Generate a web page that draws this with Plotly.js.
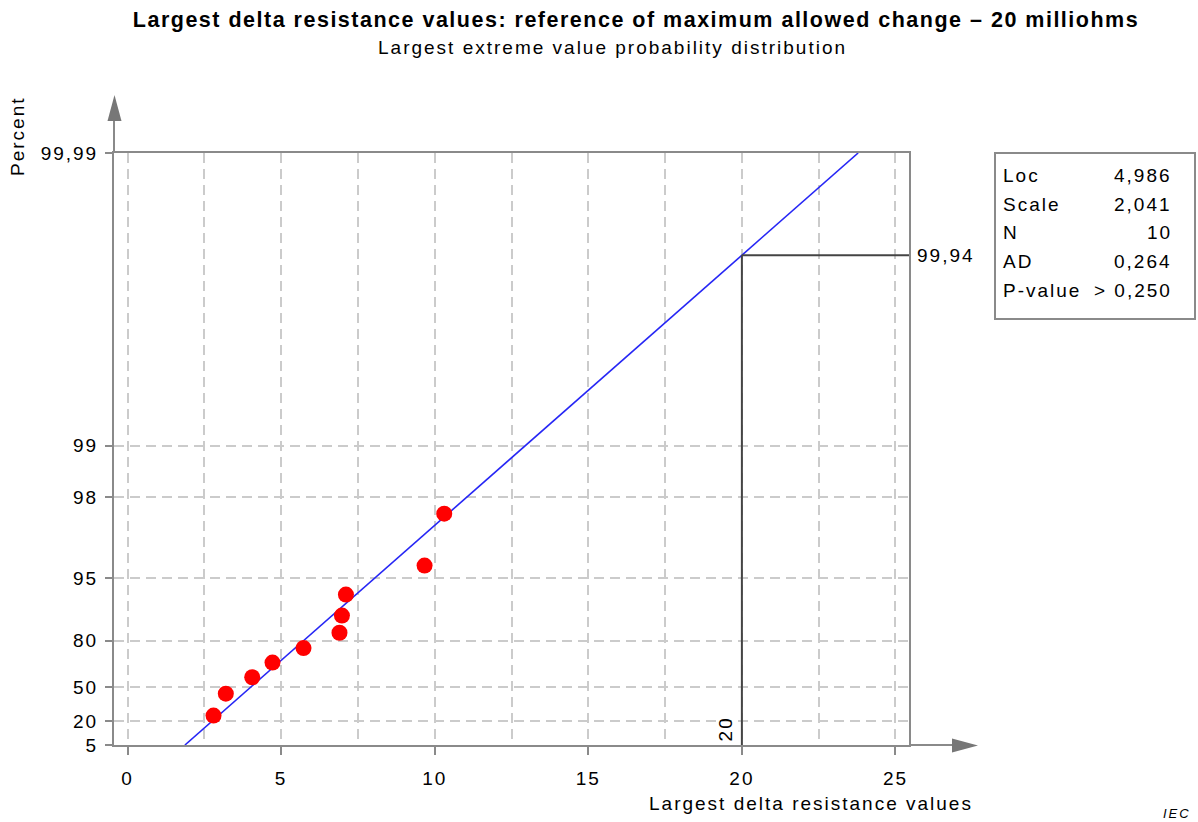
<!DOCTYPE html>
<html>
<head>
<meta charset="utf-8">
<script src="https://cdn.plot.ly/plotly-3.0.1.min.js"></script>
<style>
  html, body { margin: 0; padding: 0; background: #fff; }
  #chart { width: 1198px; height: 822px; }
  text { letter-spacing: 2px; }
  text.gtitle { letter-spacing: 1.5px; }
</style>
</head>
<body>
<div id="chart"></div>
<script>
// ---- data ----
const xVals   = [2.80, 3.20, 4.06, 4.72, 5.73, 6.90, 6.98, 7.11, 9.67, 10.31];
const pctVals = [6.7, 16.3, 26.0, 35.6, 45.2, 54.8, 64.4, 74.0, 83.7, 93.3];
const fitLoc = 4.986;
const fitScale = 2.041;
const refX = 20;
const refLabel = "99,94";
const xTickVals = [0, 5, 10, 15, 20, 25];
const yTickPct  = [1, 5, 20, 50, 80, 95, 98, 99.99];
const yTickText = ["5", "20", "50", "80", "95", "98", "99", "99,99"];
const statLabels = ["Loc", "Scale", "N", "AD", "P-value"];
const statValues = ["4,986", "2,041", "10", "0,264", "> 0,250"];

// largest extreme value (Gumbel) probability scale
const pctToZ = p => -Math.log(-Math.log(p / 100));
const zMin = pctToZ(yTickPct[0]);
const zMax = pctToZ(yTickPct[yTickPct.length - 1]);
const fitZ = x => (x - fitLoc) / fitScale;
const refZ = fitZ(refX);

const FONT = "Liberation Sans, Arial, Helvetica, sans-serif";
const GRID = "#cbcbcb";
const AXC = "#8a8a8a";

const traces = [
  {
    x: [fitLoc + fitScale * zMin, fitLoc + fitScale * zMax],
    y: [zMin, zMax],
    mode: "lines",
    line: { color: "#2626f5", width: 1.6 },
    hoverinfo: "skip"
  },
  {
    x: xVals,
    y: pctVals.map(pctToZ),
    mode: "markers",
    marker: { color: "#ff0000", size: 16, line: { width: 0 } }
  }
];

// pixel helpers for paper coordinates (plot area 114..909 x 153..745)
const PL = 114, PR = 909, PT = 153, PB = 745;
const px = v => (v - PL) / (PR - PL);
const py = v => (PB - v) / (PB - PT);

const shapes = [
  // y-axis extension and arrow
  { type: "line", xref: "paper", yref: "paper", x0: 0, x1: 0, y0: 1, y1: py(120), line: { color: AXC, width: 2 } },
  { type: "path", xref: "paper", yref: "paper",
    path: `M ${px(107.5)},${py(121)} L ${px(121.5)},${py(121)} L ${px(114.5)},${py(95)} Z`,
    fillcolor: "#777", line: { width: 0 } },
  // x-axis extension and arrow
  { type: "line", xref: "paper", yref: "paper", x0: 1, x1: px(953), y0: 0, y1: 0, line: { color: AXC, width: 2 } },
  { type: "path", xref: "paper", yref: "paper",
    path: `M ${px(952)},${py(738.5)} L ${px(952)},${py(752.5)} L ${px(978)},${py(745.5)} Z`,
    fillcolor: "#777", line: { width: 0 } },
  // reference lines
  { type: "line", xref: "x", yref: "y", x0: refX, x1: refX, y0: zMin, y1: refZ, line: { color: "#444", width: 2 }, layer: "above" },
  { type: "line", xref: "x", yref: "y", x0: refX, x1: 25.44, y0: refZ, y1: refZ, line: { color: "#444", width: 2 }, layer: "above" },
  // stats box
  { type: "rect", xref: "paper", yref: "paper", x0: px(995), x1: px(1195), y0: py(153), y1: py(319),
    line: { color: "#8a8a8a", width: 2 }, fillcolor: "#fff" }
];

const annotations = [
  { text: "Largest extreme value probability distribution", xref: "paper", yref: "paper",
    x: px(612), y: py(47), xanchor: "center", yanchor: "middle", showarrow: false,
    font: { family: FONT, size: 19, color: "#000" } },
  { text: "Largest delta resistance values", xref: "paper", yref: "paper",
    x: px(811), y: py(803), xanchor: "center", yanchor: "middle", showarrow: false,
    font: { family: FONT, size: 19, color: "#000" } },
  { text: "Percent", xref: "paper", yref: "paper", textangle: -90,
    x: px(17), y: py(137), xanchor: "center", yanchor: "middle", showarrow: false,
    font: { family: FONT, size: 19, color: "#000" } },
  { text: refLabel, xref: "paper", yref: "y",
    x: px(915), y: refZ, xanchor: "left", yanchor: "middle", showarrow: false,
    font: { family: FONT, size: 19, color: "#000" } },
  { text: String(refX), xref: "x", yref: "y", textangle: -90,
    x: refX, y: zMin, xanchor: "center", yanchor: "bottom", xshift: -16, yshift: 2, showarrow: false,
    font: { family: FONT, size: 19, color: "#000" } },
  { text: "<i>IEC</i>", xref: "paper", yref: "paper",
    x: px(1193), y: py(813), xanchor: "right", yanchor: "middle", showarrow: false,
    font: { family: FONT, size: 13, color: "#000" } }
];

const rowY = [175, 204, 232, 261, 290];
statLabels.forEach((lab, i) => {
  annotations.push({ text: lab, xref: "paper", yref: "paper", x: px(1001), y: py(rowY[i]),
    xanchor: "left", yanchor: "middle", showarrow: false,
    font: { family: FONT, size: 19, color: "#000" } });
  annotations.push({ text: statValues[i], xref: "paper", yref: "paper", x: px(1174), y: py(rowY[i]),
    xanchor: "right", yanchor: "middle", showarrow: false,
    font: { family: FONT, size: 19, color: "#000" } });
});

const layout = {
  width: 1198, height: 822,
  margin: { l: PL, r: 1198 - PR, t: PT, b: 822 - PB, pad: 0 },
  paper_bgcolor: "#fff", plot_bgcolor: "#fff",
  showlegend: false,
  font: { family: FONT, size: 19, color: "#000" },
  title: {
    text: "<b>Largest delta resistance values: reference of maximum allowed change \u2013 20 milliohms</b>",
    font: { family: FONT, size: 21.5, color: "#000" },
    xref: "paper", x: px(636), xanchor: "center",
    yref: "container", y: 1 - 19 / 822, yanchor: "middle"
  },
  xaxis: {
    range: [-0.44, 25.44],
    tickmode: "array", tickvals: xTickVals, ticktext: xTickVals.map(String),
    showgrid: true, gridcolor: GRID, griddash: "10px,6px", gridwidth: 2,
    minor: { tickmode: "linear", tick0: 0, dtick: 2.5, showgrid: true, gridcolor: GRID, griddash: "10px,6px", gridwidth: 2, ticks: "" },
    zeroline: false, showline: true, linecolor: AXC, linewidth: 2, mirror: true,
    ticks: "outside", ticklen: 8, tickwidth: 2, tickcolor: AXC, ticklabelstandoff: 7,
    tickfont: { family: FONT, size: 19, color: "#000" },
    fixedrange: true
  },
  yaxis: {
    range: [zMin, zMax],
    tickmode: "array", tickvals: yTickPct.map(pctToZ), ticktext: yTickText,
    showgrid: true, gridcolor: GRID, griddash: "10px,6px", gridwidth: 2,
    zeroline: false, showline: true, linecolor: AXC, linewidth: 2, mirror: true,
    ticks: "outside", ticklen: 7, tickwidth: 2, tickcolor: AXC, ticklabelstandoff: 3,
    tickfont: { family: FONT, size: 19, color: "#000" },
    fixedrange: true
  },
  shapes: shapes,
  annotations: annotations
};

Plotly.newPlot("chart", traces, layout, { displayModeBar: false, staticPlot: true });
</script>
</body>
</html>
